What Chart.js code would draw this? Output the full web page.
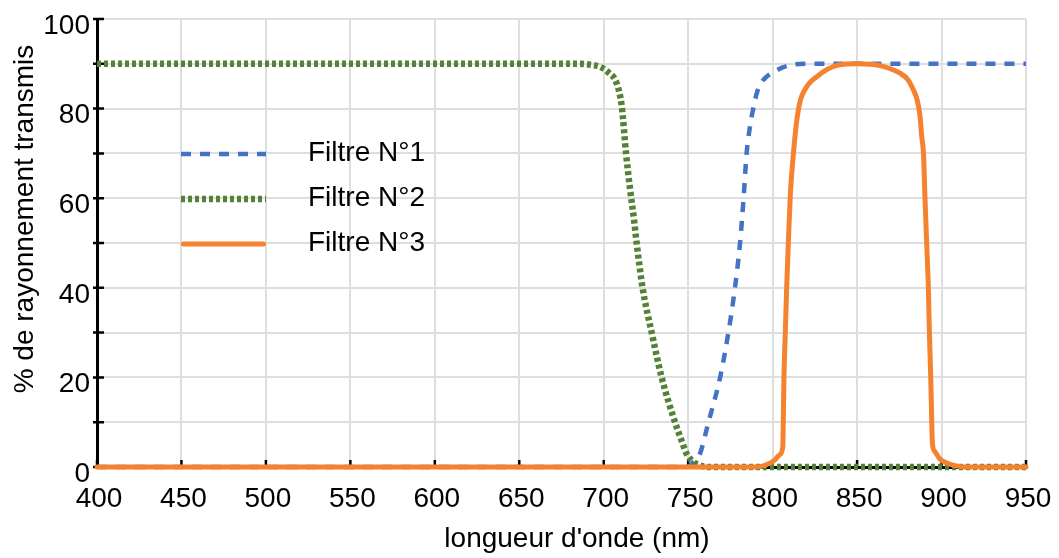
<!DOCTYPE html>
<html>
<head>
<meta charset="utf-8">
<script src="https://cdn.jsdelivr.net/npm/chart.js@4.4.1/dist/chart.umd.min.js"></script>
<style>
  html, body { margin: 0; padding: 0; background: #fff; }
  #wrap { width: 1059px; height: 558px; }
</style>
</head>
<body>
<div id="wrap"><canvas id="filtresChart"></canvas></div>
<script>
// Filtre N°1 (passe-haut)
const filtre1Nm = [400, 749, 753, 757, 762, 768.9, 773.8, 777.7, 780.7, 782.8, 784.6, 786.6, 788.5, 790.5, 793, 797, 801.4, 806, 812, 822, 950];
const filtre1Pct = [0, 0, 1, 3, 10, 20, 30, 40, 50, 60, 70, 76, 80, 83.3, 85.6, 87.3, 88.3, 89.2, 89.8, 90, 90];

// Filtre N°2 (passe-bas)
const filtre2Nm = [400, 685, 692, 698, 703, 707.7, 710.7, 713.2, 715.6, 718, 719.5, 723, 728.4, 734.3, 742.2, 746, 749, 752, 756, 762, 950];
const filtre2Pct = [90, 90, 89.8, 89.3, 88, 85.6, 80.4, 70, 62, 55, 50, 40, 30, 20, 10, 6, 3, 1.5, 0.5, 0, 0];

// Filtre N°3 (passe-bande)
const filtre3Nm = [400, 790, 795, 801.4, 804, 806, 806.3, 806.7, 807.5, 808.3, 809.3, 810.5, 812.3, 814.5, 816.5, 819.2, 822, 826.1, 831, 836,
                   842, 850, 858, 863.6, 869, 875.4, 880, 883.3, 885.5, 887.2, 888.2, 889.3, 890.2, 891.2, 892.2, 892.8, 893.6, 894.2, 894.6, 896,
                   899, 903, 908, 913, 950];
const filtre3Pct = [0, 0, 0.3, 1.6, 2.7, 4.5, 10, 20, 30, 40, 50, 61, 70, 78, 82, 84.3, 85.8, 87.1, 88.5, 89.4,
                    89.9, 90, 89.9, 89.6, 89, 87.9, 86.5, 84.2, 82, 78.5, 74, 70, 60, 50, 40, 30, 20, 10, 5.3, 3.5,
                    1.8, 0.9, 0.3, 0, 0];

const seriesLabels = ['Filtre N°1', 'Filtre N°2', 'Filtre N°3'];
const xTitle = "longueur d'onde (nm)";
const yTitle = '% de rayonnement transmis';

const FONT = 'Liberation Sans, Arial, sans-serif';

function toPoints(xs, ys) {
    return xs.map((x, i) => ({ x: x, y: ys[i] }));
}

// small ticks crossing the axes
const axisTicks = {
    id: 'axisTicks',
    beforeDatasetsDraw(chart) {
        const ctx = chart.ctx, area = chart.chartArea;
        const xs = chart.scales.x, ys = chart.scales.y;
        ctx.save();
        ctx.strokeStyle = '#000';
        ctx.lineWidth = 2.5;
        ctx.beginPath();
        ys.ticks.forEach(t => {
            const py = ys.getPixelForValue(t.value);
            ctx.moveTo(area.left - 4, py);
            ctx.lineTo(area.left + 7, py);
        });
        xs.ticks.forEach(t => {
            const px = xs.getPixelForValue(t.value);
            ctx.moveTo(px, area.bottom - 7);
            ctx.lineTo(px, area.bottom);
        });
        ctx.stroke();
        ctx.restore();
    }
};

// axis titles and legend inside the plot
const titlesAndLegend = {
    id: 'titlesAndLegend',
    afterDraw(chart) {
        const ctx = chart.ctx;
        ctx.save();
        ctx.fillStyle = '#000';
        ctx.font = '28px ' + FONT;

        ctx.textAlign = 'center';
        ctx.textBaseline = 'alphabetic';
        ctx.fillText(xTitle, 577, 547);

        ctx.save();
        ctx.translate(33, 219);
        ctx.rotate(-Math.PI / 2);
        ctx.fillText(yTitle, 0, 0);
        ctx.restore();

        const rows = [154, 199, 244];
        chart.data.datasets.forEach((ds, i) => {
            ctx.save();
            ctx.strokeStyle = ds.borderColor;
            ctx.lineWidth = ds.borderWidth;
            ctx.setLineDash(ds.borderDash || []);
            ctx.lineCap = ds.borderCapStyle || 'butt';
            ctx.beginPath();
            const inset = ds.borderCapStyle === 'round' ? ds.borderWidth / 2 : 0;
            ctx.moveTo(181 + inset, rows[i]);
            ctx.lineTo(266 - inset, rows[i]);
            ctx.stroke();
            ctx.restore();
            ctx.textAlign = 'left';
            ctx.textBaseline = 'middle';
            ctx.fillText(ds.label, 308, rows[i] - 1);
        });
        ctx.restore();
    }
};

const ctx = document.getElementById('filtresChart');
new Chart(ctx, {
    type: 'line',
    data: {
        datasets: [
            {
                label: seriesLabels[0],
                data: toPoints(filtre1Nm, filtre1Pct),
                borderColor: '#4472c4',
                borderWidth: 4.5,
                borderDash: [10, 9],
                cubicInterpolationMode: 'monotone',
                clip: 8,
                order: 2
            },
            {
                label: seriesLabels[1],
                data: toPoints(filtre2Nm, filtre2Pct),
                borderColor: '#538135',
                borderWidth: 6.5,
                borderDash: [4, 3],
                cubicInterpolationMode: 'monotone',
                clip: 8,
                order: 1
            },
            {
                label: seriesLabels[2],
                data: toPoints(filtre3Nm, filtre3Pct),
                borderColor: '#f4822f',
                borderWidth: 5,
                borderCapStyle: 'round',
                borderJoinStyle: 'round',
                cubicInterpolationMode: 'monotone',
                clip: 8,
                order: 0
            }
        ]
    },
    options: {
        responsive: true,
        maintainAspectRatio: false,
        animation: false,
        layout: { padding: { top: 19, right: 33, left: 0, bottom: 0 } },
        elements: { point: { radius: 0 } },
        plugins: {
            legend: { display: false },
            tooltip: { enabled: false }
        },
        scales: {
            x: {
                type: 'linear',
                min: 400,
                max: 950,
                ticks: {
                    stepSize: 50,
                    color: '#000',
                    font: { family: FONT, size: 28 },
                    padding: 15,
                    labelOffset: 2,
                    maxRotation: 0
                },
                grid: { color: '#dedede', lineWidth: 2, drawTicks: false },
                border: { color: '#000', width: 3 },
                afterFit(scale) {
                    scale.height = 91;
                    scale.paddingLeft = 0;
                    scale.paddingRight = 0;
                }
            },
            y: {
                min: 0,
                max: 100,
                ticks: {
                    stepSize: 10,
                    color: '#000',
                    font: { family: FONT, size: 28 },
                    padding: 7,
                    labelOffset: 7,
                    callback: v => (v % 20 === 0 ? v : '')
                },
                grid: { color: '#dedede', lineWidth: 2, drawTicks: false },
                border: { color: '#000', width: 3 },
                afterFit(scale) {
                    scale.width = 97;
                    scale.paddingTop = 0;
                    scale.paddingBottom = 0;
                }
            }
        }
    },
    plugins: [axisTicks, titlesAndLegend]
});
</script>
</body>
</html>
